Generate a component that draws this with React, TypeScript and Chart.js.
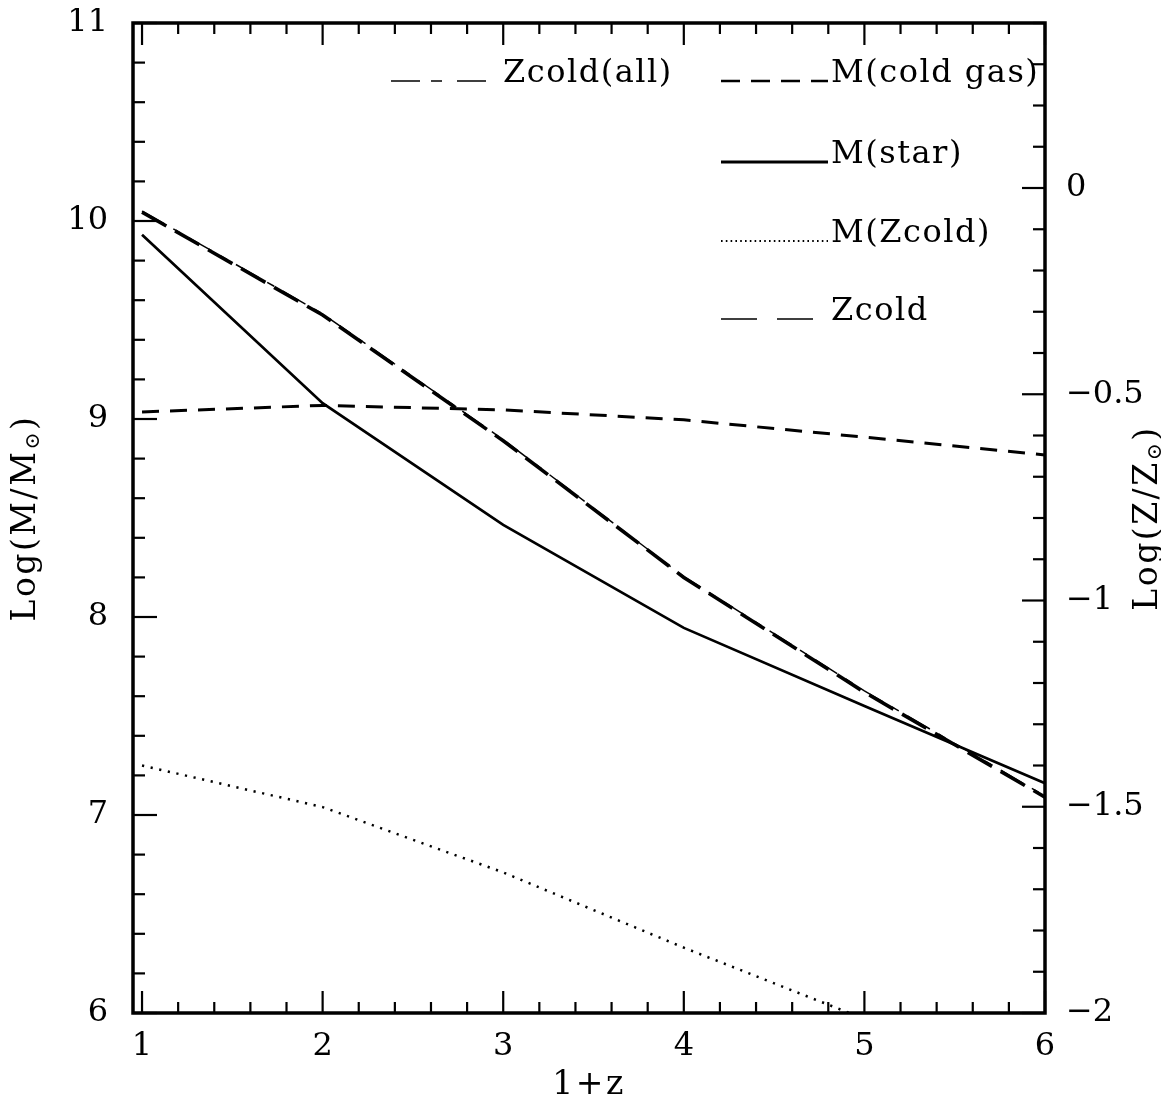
import React, { useEffect, useRef } from 'react';
import { Chart, registerables } from 'chart.js';

Chart.register(...registerables);

// ---- data ----
const onePlusZ = [1, 2, 3, 4, 5, 6];
const mColdGas = [10.045, 9.525, 8.89, 8.2, 7.62, 7.09];
const mStar = [9.93, 9.08, 8.465, 7.945, 7.55, 7.16];
const mZcold = [7.25, 7.04, 6.71, 6.33, 5.97, 5.6];
const zcold = [-0.543, -0.527, -0.538, -0.562, -0.604, -0.647];
const zcoldAll = [-0.056, -0.305, -0.61, -0.942, -1.219, -1.474];

const xTicks = [1, 2, 3, 4, 5, 6];
const leftTicks = [6, 7, 8, 9, 10, 11];
const rightTicks = [0, -0.5, -1, -1.5, -2];

const legendLabels = ['Zcold(all)', 'M(cold gas)', 'M(star)', 'M(Zcold)', 'Zcold'];

const FONT = '"DejaVu Serif", "Liberation Serif", serif';
const W = 1153;
const H = 1087;

const fmt = (v: number) => (v < 0 ? '\u2212' + String(Math.abs(v)) : String(v));

function drawSubText(
  ctx: CanvasRenderingContext2D,
  parts: { t: string; sub?: boolean }[],
  size: number,
  spacing: number
) {
  const subSize = size * 0.62;
  (ctx as any).letterSpacing = `${spacing}px`;
  let total = 0;
  const widths = parts.map((p) => {
    ctx.font = `${p.sub ? subSize : size}px ${FONT}`;
    const w = ctx.measureText(p.t).width;
    total += w;
    return w;
  });
  let x = -total / 2;
  parts.forEach((p, i) => {
    ctx.font = `${p.sub ? subSize : size}px ${FONT}`;
    ctx.fillText(p.t, x, p.sub ? size * 0.22 : 0);
    x += widths[i];
  });
  (ctx as any).letterSpacing = '0px';
}

const overlay = {
  id: 'overlay',
  afterDraw(chart: any) {
    const ctx: CanvasRenderingContext2D = chart.ctx;
    const { left, right, top, bottom } = chart.chartArea;
    const xs = chart.scales.x;
    const yl = chart.scales.yM;
    const yr = chart.scales.yZ;
    ctx.save();
    ctx.strokeStyle = '#000';
    ctx.fillStyle = '#000';
    ctx.lineCap = 'butt';
    ctx.setLineDash([]);

    // ticks
    ctx.lineWidth = 2.2;
    const line = (x1: number, y1: number, x2: number, y2: number) => {
      ctx.beginPath();
      ctx.moveTo(x1, y1);
      ctx.lineTo(x2, y2);
      ctx.stroke();
    };
    for (let k = 0; k <= 25; k++) {
      const v = 1 + k * 0.2;
      const px = xs.getPixelForValue(v);
      const major = k % 5 === 0;
      const len = major ? 22 : 11;
      line(px, bottom, px, bottom - len);
      line(px, top, px, top + len);
    }
    for (let k = 0; k <= 25; k++) {
      const v = 6 + k * 0.2;
      const py = yl.getPixelForValue(v);
      const major = k % 5 === 0;
      line(left, py, left + (major ? 24 : 12), py);
    }
    for (let k = 0; k <= 24; k++) {
      const v = -2 + k * 0.1;
      const py = yr.getPixelForValue(v);
      const major = k % 5 === 0;
      line(right, py, right - (major ? 23 : 12), py);
    }

    // frame
    ctx.lineWidth = 3.5;
    ctx.strokeRect(left, top, right - left, bottom - top);

    // legend
    ctx.font = `32px ${FONT}`;
    ctx.textBaseline = 'alphabetic';
    ctx.textAlign = 'left';
    const rows = [74, 74, 155, 234, 312];
    const samples: { x1: number; x2: number; dash: number[]; w: number; tx: number }[] = [
      { x1: 383, x2: 482, dash: [29, 11, 11, 15], w: 1.6, tx: 495 },
      { x1: 713, x2: 820, dash: [19, 11], w: 2.4, tx: 823 },
      { x1: 713, x2: 820, dash: [], w: 3, tx: 823 },
      { x1: 713, x2: 820, dash: [1.6, 3.2], w: 1.8, tx: 823 },
      { x1: 713, x2: 807, dash: [36, 20], w: 1.6, tx: 823 },
    ];
    samples.forEach((s, i) => {
      ctx.lineWidth = s.w;
      ctx.setLineDash(s.dash);
      line(s.x1, rows[i] - 1, s.x2, rows[i] - 1);
      ctx.setLineDash([]);
      (ctx as any).letterSpacing = '1.5px';
      ctx.fillText(legendLabels[i], s.tx, rows[i]);
      (ctx as any).letterSpacing = '0px';
    });

    // axis titles
    ctx.textBaseline = 'middle';
    ctx.textAlign = 'left';
    ctx.save();
    ctx.translate(18, (top + bottom) / 2);
    ctx.rotate(-Math.PI / 2);
    drawSubText(ctx, [{ t: 'Log(M/M' }, { t: '\u2299', sub: true }, { t: ')' }], 33, 2.5);
    ctx.restore();

    ctx.save();
    ctx.translate(1140, (top + bottom) / 2);
    ctx.rotate(-Math.PI / 2);
    drawSubText(ctx, [{ t: 'Log(Z/Z' }, { t: '\u2299', sub: true }, { t: ')' }], 33, 2.5);
    ctx.restore();

    ctx.save();
    ctx.translate((left + right) / 2, 1077);
    drawSubText(ctx, [{ t: '1+z' }], 33, 2.5);
    ctx.restore();

    ctx.restore();
  },
};

const noPad = (s: any) => {
  s.paddingTop = 0;
  s.paddingBottom = 0;
  s.paddingLeft = 0;
  s.paddingRight = 0;
};

export default function App() {
  const ref = useRef<HTMLCanvasElement>(null);
  useEffect(() => {
    const pts = (ys: number[]) => ys.map((y, i) => ({ x: onePlusZ[i], y }));
    const base = { borderColor: '#000', pointRadius: 0, tension: 0, fill: false, borderCapStyle: 'butt' as const };
    const tickFont = { family: FONT, size: 32 };
    const chart = new Chart(ref.current as HTMLCanvasElement, {
      type: 'line',
      data: {
        datasets: [
          { ...base, label: 'M(cold gas)', data: pts(mColdGas), yAxisID: 'yM', borderWidth: 3.6, borderDash: [28, 10] },
          { ...base, label: 'Zcold(all)', data: pts(zcoldAll), yAxisID: 'yZ', borderWidth: 1.5, borderDash: [26, 10, 8, 10] },
          { ...base, label: 'M(star)', data: pts(mStar), yAxisID: 'yM', borderWidth: 2.7 },
          { ...base, label: 'M(Zcold)', data: pts(mZcold), yAxisID: 'yM', borderWidth: 2.5, borderDash: [2.2, 6.6] },
          { ...base, label: 'Zcold', data: pts(zcold), yAxisID: 'yZ', borderWidth: 3, borderDash: [17, 11] },
        ],
      },
      options: {
        responsive: false,
        animation: false,
        layout: { padding: { top: 15, left: 0, right: 0, bottom: 0 } },
        plugins: { legend: { display: false }, tooltip: { enabled: false }, title: { display: false } },
        scales: {
          x: {
            type: 'linear',
            min: 0.95,
            max: 6,
            afterBuildTicks: (s: any) => {
              s.ticks = xTicks.map((v) => ({ value: v }));
            },
            afterFit: (s: any) => {
              s.height = 82;
              noPad(s);
            },
            grid: { display: false, drawTicks: false, tickLength: 0 },
            border: { display: false },
            ticks: { font: tickFont, color: '#000', padding: 14, maxRotation: 0, autoSkip: false, callback: (v: any) => fmt(Number(v)) },
          },
          yM: {
            type: 'linear',
            position: 'left',
            min: 6,
            max: 11,
            afterBuildTicks: (s: any) => {
              s.ticks = leftTicks.map((v) => ({ value: v }));
            },
            afterFit: (s: any) => {
              s.width = 125;
              noPad(s);
            },
            grid: { display: false, drawTicks: false, tickLength: 0 },
            border: { display: false },
            ticks: { font: tickFont, color: '#000', padding: 25, autoSkip: false, callback: (v: any) => fmt(Number(v)) },
          },
          yZ: {
            type: 'linear',
            position: 'right',
            min: -2,
            max: 0.4,
            afterBuildTicks: (s: any) => {
              s.ticks = rightTicks.map((v) => ({ value: v }));
            },
            afterFit: (s: any) => {
              s.width = 116;
              noPad(s);
            },
            grid: { display: false, drawTicks: false, tickLength: 0 },
            border: { display: false },
            ticks: { font: tickFont, color: '#000', padding: 21, autoSkip: false, callback: (v: any) => fmt(Number(v)) },
          },
        },
      },
      plugins: [overlay],
    });
    return () => chart.destroy();
  }, []);
  return (
    <div style={{ width: W, height: H }}>
      <canvas ref={ref} width={W} height={H} style={{ display: 'block', width: W, height: H }} />
    </div>
  );
}
